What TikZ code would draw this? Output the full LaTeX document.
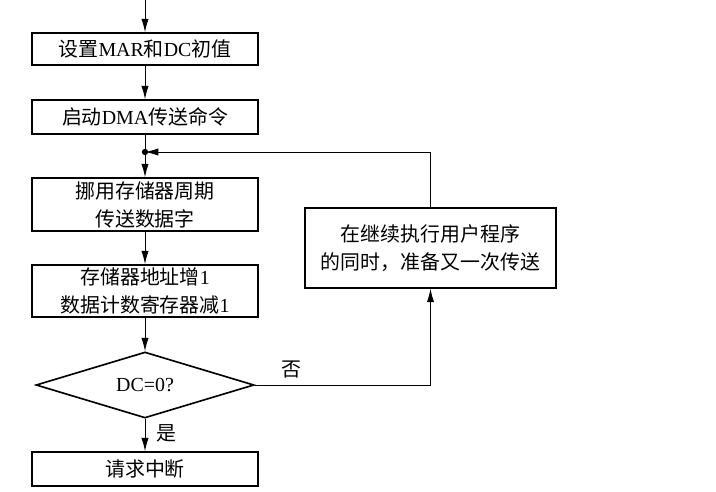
\documentclass[tikz,border=0pt]{standalone}
\usepackage{fontspec}
\setmainfont{Liberation Serif}
\newfontfamily\cjk{Noto Sans CJK SC}
\usepackage{tikz}
\usetikzlibrary{arrows.meta,shapes.geometric}

\begin{document}
\begin{tikzpicture}[
  x=0.03cm, y=-0.03cm,
  font=\fontsize{17}{24}\selectfont,
  box/.style={draw, line width=1.4pt, minimum width=6.78cm, inner sep=0pt, align=center},
  cond/.style={draw, diamond, line width=1.4pt, minimum width=6.54cm, minimum height=1.98cm, inner sep=0pt, aspect=3.3},
  flow/.style={line width=0.8pt},
  >={Latex[length=4mm,width=2.2mm]}
]
\useasboundingbox (0,0) rectangle (716,491);

% main column
\coordinate (entry) at (145,0);
\node[box, minimum height=0.96cm] (init) at (145,49) {{\cjk 设置}MAR{\cjk 和}DC{\cjk 初值}};
\node[box, minimum height=1.02cm] (dmacmd) at (145,117) {{\cjk 启动}DMA{\cjk 传送命令}};
\coordinate (junc) at (145,152);
\node[box, minimum height=1.59cm] (steal) at (145,204.5) {\cjk 挪用存储器周期\\\cjk 传送数据字};
\node[box, minimum height=1.56cm] (incr) at (145,291) {{\cjk 存储器地址增}1\\{\cjk 数据计数寄存器减}1};
\node[cond] (test) at (145,385) {DC=0?};
\node[box, minimum height=1.02cm] (irq) at (145,469) {\cjk 请求中断};

% loop back, to the right
\node[box, minimum width=7.53cm, minimum height=2.4cm] (user) at (430.5,248) {\cjk 在继续执行用户程序\\\cjk 的同时，准备又一次传送};

\draw[flow,->] (entry) -- (init);
\draw[flow,->] (init) -- (dmacmd);
\draw[flow] (dmacmd) -- (junc);
\draw[flow,->] (junc) -- (steal);
\draw[flow,->] (steal) -- (incr);
\draw[flow,->] (incr) -- (test);
\draw[flow,->] (test) -- node[right, xshift=6pt, yshift=1pt] {\cjk 是} (irq);
\draw[flow,->] (test.east) -| node[above, pos=0.105, yshift=2pt] {\cjk 否} (user);
\draw[flow,->] (user) |- (junc);
\fill (junc) circle (3.2);

\end{tikzpicture}
\end{document}
